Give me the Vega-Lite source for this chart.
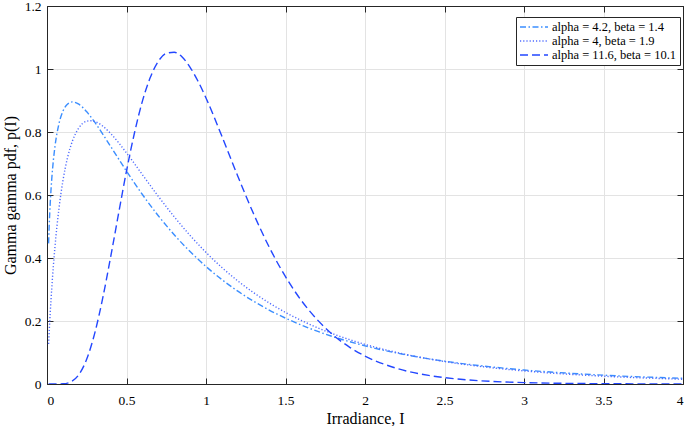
{
  "$schema": "https://vega.github.io/schema/vega-lite/v6.json",
  "width": 636,
  "height": 378,
  "autosize": {"type": "none"},
  "padding": {"left": 47, "top": 6, "right": 2, "bottom": 42},
  "background": "white",
  "config": {
    "font": "Liberation Serif",
    "view": {"stroke": "#262626", "strokeWidth": 1},
    "axis": {
      "domain": true,
      "domainColor": "#262626",
      "domainWidth": 1,
      "grid": true,
      "gridColor": "#e3e3e3",
      "gridWidth": 1,
      "tickColor": "#262626",
      "tickSize": -6,
      "labelFont": "Liberation Serif",
      "labelFontSize": 13.5,
      "labelColor": "#000000",
      "titleFont": "Liberation Serif",
      "titleFontSize": 16,
      "titleFontWeight": "normal",
      "titleColor": "#000000"
    }
  },
  "data": {
    "values": [
      {"series": "alpha = 4.2, beta = 1.4", "I": 0.01, "p": 0.4465},
      {"series": "alpha = 4.2, beta = 1.4", "I": 0.015, "p": 0.5170},
      {"series": "alpha = 4.2, beta = 1.4", "I": 0.02, "p": 0.5711},
      {"series": "alpha = 4.2, beta = 1.4", "I": 0.03, "p": 0.6516},
      {"series": "alpha = 4.2, beta = 1.4", "I": 0.04, "p": 0.7096},
      {"series": "alpha = 4.2, beta = 1.4", "I": 0.05, "p": 0.7536},
      {"series": "alpha = 4.2, beta = 1.4", "I": 0.075, "p": 0.8258},
      {"series": "alpha = 4.2, beta = 1.4", "I": 0.1, "p": 0.8657},
      {"series": "alpha = 4.2, beta = 1.4", "I": 0.13, "p": 0.8890},
      {"series": "alpha = 4.2, beta = 1.4", "I": 0.16, "p": 0.8955},
      {"series": "alpha = 4.2, beta = 1.4", "I": 0.2, "p": 0.8882},
      {"series": "alpha = 4.2, beta = 1.4", "I": 0.25, "p": 0.8641},
      {"series": "alpha = 4.2, beta = 1.4", "I": 0.3, "p": 0.8312},
      {"series": "alpha = 4.2, beta = 1.4", "I": 0.4, "p": 0.7544},
      {"series": "alpha = 4.2, beta = 1.4", "I": 0.5, "p": 0.6758},
      {"series": "alpha = 4.2, beta = 1.4", "I": 0.6, "p": 0.6016},
      {"series": "alpha = 4.2, beta = 1.4", "I": 0.7, "p": 0.5342},
      {"series": "alpha = 4.2, beta = 1.4", "I": 0.8, "p": 0.4738},
      {"series": "alpha = 4.2, beta = 1.4", "I": 0.9, "p": 0.4203},
      {"series": "alpha = 4.2, beta = 1.4", "I": 1.0, "p": 0.3730},
      {"series": "alpha = 4.2, beta = 1.4", "I": 1.1, "p": 0.3314},
      {"series": "alpha = 4.2, beta = 1.4", "I": 1.2, "p": 0.2947},
      {"series": "alpha = 4.2, beta = 1.4", "I": 1.4, "p": 0.2341},
      {"series": "alpha = 4.2, beta = 1.4", "I": 1.5, "p": 0.2091},
      {"series": "alpha = 4.2, beta = 1.4", "I": 1.6, "p": 0.1870},
      {"series": "alpha = 4.2, beta = 1.4", "I": 1.8, "p": 0.1501},
      {"series": "alpha = 4.2, beta = 1.4", "I": 2.0, "p": 0.1212},
      {"series": "alpha = 4.2, beta = 1.4", "I": 2.25, "p": 0.0934},
      {"series": "alpha = 4.2, beta = 1.4", "I": 2.5, "p": 0.0725},
      {"series": "alpha = 4.2, beta = 1.4", "I": 2.75, "p": 0.0566},
      {"series": "alpha = 4.2, beta = 1.4", "I": 3.0, "p": 0.0445},
      {"series": "alpha = 4.2, beta = 1.4", "I": 3.5, "p": 0.0280},
      {"series": "alpha = 4.2, beta = 1.4", "I": 4.0, "p": 0.0180},
      {"series": "alpha = 4, beta = 1.9", "I": 0.01, "p": 0.1271},
      {"series": "alpha = 4, beta = 1.9", "I": 0.015, "p": 0.1777},
      {"series": "alpha = 4, beta = 1.9", "I": 0.02, "p": 0.2236},
      {"series": "alpha = 4, beta = 1.9", "I": 0.03, "p": 0.3047},
      {"series": "alpha = 4, beta = 1.9", "I": 0.04, "p": 0.3745},
      {"series": "alpha = 4, beta = 1.9", "I": 0.05, "p": 0.4351},
      {"series": "alpha = 4, beta = 1.9", "I": 0.075, "p": 0.5563},
      {"series": "alpha = 4, beta = 1.9", "I": 0.1, "p": 0.6447},
      {"series": "alpha = 4, beta = 1.9", "I": 0.13, "p": 0.7204},
      {"series": "alpha = 4, beta = 1.9", "I": 0.16, "p": 0.7714},
      {"series": "alpha = 4, beta = 1.9", "I": 0.2, "p": 0.8128},
      {"series": "alpha = 4, beta = 1.9", "I": 0.25, "p": 0.8342},
      {"series": "alpha = 4, beta = 1.9", "I": 0.28, "p": 0.8359},
      {"series": "alpha = 4, beta = 1.9", "I": 0.3, "p": 0.8336},
      {"series": "alpha = 4, beta = 1.9", "I": 0.35, "p": 0.8190},
      {"series": "alpha = 4, beta = 1.9", "I": 0.4, "p": 0.7954},
      {"series": "alpha = 4, beta = 1.9", "I": 0.5, "p": 0.7336},
      {"series": "alpha = 4, beta = 1.9", "I": 0.6, "p": 0.6646},
      {"series": "alpha = 4, beta = 1.9", "I": 0.7, "p": 0.5958},
      {"series": "alpha = 4, beta = 1.9", "I": 0.8, "p": 0.5310},
      {"series": "alpha = 4, beta = 1.9", "I": 0.9, "p": 0.4715},
      {"series": "alpha = 4, beta = 1.9", "I": 1.0, "p": 0.4178},
      {"series": "alpha = 4, beta = 1.9", "I": 1.1, "p": 0.3698},
      {"series": "alpha = 4, beta = 1.9", "I": 1.2, "p": 0.3273},
      {"series": "alpha = 4, beta = 1.9", "I": 1.4, "p": 0.2566},
      {"series": "alpha = 4, beta = 1.9", "I": 1.5, "p": 0.2273},
      {"series": "alpha = 4, beta = 1.9", "I": 1.6, "p": 0.2016},
      {"series": "alpha = 4, beta = 1.9", "I": 1.8, "p": 0.1589},
      {"series": "alpha = 4, beta = 1.9", "I": 2.0, "p": 0.1258},
      {"series": "alpha = 4, beta = 1.9", "I": 2.25, "p": 0.0945},
      {"series": "alpha = 4, beta = 1.9", "I": 2.5, "p": 0.0714},
      {"series": "alpha = 4, beta = 1.9", "I": 2.75, "p": 0.0543},
      {"series": "alpha = 4, beta = 1.9", "I": 3.0, "p": 0.0416},
      {"series": "alpha = 4, beta = 1.9", "I": 3.5, "p": 0.0248},
      {"series": "alpha = 4, beta = 1.9", "I": 4.0, "p": 0.0151},
      {"series": "alpha = 11.6, beta = 10.1", "I": 0.01, "p": 0.0},
      {"series": "alpha = 11.6, beta = 10.1", "I": 0.05, "p": 0.0},
      {"series": "alpha = 11.6, beta = 10.1", "I": 0.1, "p": 0.0007},
      {"series": "alpha = 11.6, beta = 10.1", "I": 0.15, "p": 0.0069},
      {"series": "alpha = 11.6, beta = 10.1", "I": 0.2, "p": 0.0294},
      {"series": "alpha = 11.6, beta = 10.1", "I": 0.25, "p": 0.0791},
      {"series": "alpha = 11.6, beta = 10.1", "I": 0.3, "p": 0.1608},
      {"series": "alpha = 11.6, beta = 10.1", "I": 0.35, "p": 0.2716},
      {"series": "alpha = 11.6, beta = 10.1", "I": 0.4, "p": 0.4025},
      {"series": "alpha = 11.6, beta = 10.1", "I": 0.45, "p": 0.5406},
      {"series": "alpha = 11.6, beta = 10.1", "I": 0.5, "p": 0.6762},
      {"series": "alpha = 11.6, beta = 10.1", "I": 0.55, "p": 0.7968},
      {"series": "alpha = 11.6, beta = 10.1", "I": 0.6, "p": 0.8979},
      {"series": "alpha = 11.6, beta = 10.1", "I": 0.65, "p": 0.9735},
      {"series": "alpha = 11.6, beta = 10.1", "I": 0.7, "p": 1.0244},
      {"series": "alpha = 11.6, beta = 10.1", "I": 0.75, "p": 1.0496},
      {"series": "alpha = 11.6, beta = 10.1", "I": 0.8, "p": 1.0532},
      {"series": "alpha = 11.6, beta = 10.1", "I": 0.85, "p": 1.0380},
      {"series": "alpha = 11.6, beta = 10.1", "I": 0.9, "p": 1.0054},
      {"series": "alpha = 11.6, beta = 10.1", "I": 0.95, "p": 0.9611},
      {"series": "alpha = 11.6, beta = 10.1", "I": 1.0, "p": 0.9081},
      {"series": "alpha = 11.6, beta = 10.1", "I": 1.1, "p": 0.7862},
      {"series": "alpha = 11.6, beta = 10.1", "I": 1.2, "p": 0.6597},
      {"series": "alpha = 11.6, beta = 10.1", "I": 1.3, "p": 0.5394},
      {"series": "alpha = 11.6, beta = 10.1", "I": 1.4, "p": 0.4321},
      {"series": "alpha = 11.6, beta = 10.1", "I": 1.5, "p": 0.3406},
      {"series": "alpha = 11.6, beta = 10.1", "I": 1.6, "p": 0.2648},
      {"series": "alpha = 11.6, beta = 10.1", "I": 1.7, "p": 0.2040},
      {"series": "alpha = 11.6, beta = 10.1", "I": 1.8, "p": 0.1555},
      {"series": "alpha = 11.6, beta = 10.1", "I": 1.9, "p": 0.1178},
      {"series": "alpha = 11.6, beta = 10.1", "I": 2.0, "p": 0.0887},
      {"series": "alpha = 11.6, beta = 10.1", "I": 2.2, "p": 0.0496},
      {"series": "alpha = 11.6, beta = 10.1", "I": 2.4, "p": 0.0274},
      {"series": "alpha = 11.6, beta = 10.1", "I": 2.6, "p": 0.0150},
      {"series": "alpha = 11.6, beta = 10.1", "I": 2.8, "p": 0.0082},
      {"series": "alpha = 11.6, beta = 10.1", "I": 3.0, "p": 0.0045},
      {"series": "alpha = 11.6, beta = 10.1", "I": 3.5, "p": 0.0010},
      {"series": "alpha = 11.6, beta = 10.1", "I": 4.0, "p": 0.0002}
    ]
  },
  "layer": [
    {
      "mark": {"type": "line", "interpolate": "monotone", "strokeWidth": 1.4, "clip": true},
      "encoding": {
        "x": {
          "field": "I", "type": "quantitative",
          "scale": {"domain": [0, 4], "nice": false, "zero": false},
          "axis": {"orient": "bottom", "values": [0, 0.5, 1, 1.5, 2, 2.5, 3, 3.5, 4], "format": "~g", "labelPadding": 15, "title": "Irradiance, I", "titlePadding": 4}
        },
        "y": {
          "field": "p", "type": "quantitative",
          "scale": {"domain": [0, 1.2], "nice": false},
          "axis": {"orient": "left", "values": [0, 0.2, 0.4, 0.6, 0.8, 1, 1.2], "format": "~g", "labelPadding": 12, "title": "Gamma gamma pdf, p(I)", "titlePadding": 6}
        },
        "color": {
          "field": "series", "type": "nominal",
          "scale": {"domain": ["alpha = 4.2, beta = 1.4", "alpha = 4, beta = 1.9", "alpha = 11.6, beta = 10.1"], "range": ["#3b8eff", "#4f6bff", "#2347ff"]},
          "legend": {"orient": "none", "legendX": 469, "legendY": 11, "title": null, "labelFont": "Liberation Serif", "labelFontSize": 12.5, "labelColor": "#000000", "strokeColor": "#262626", "fillColor": "#ffffff", "padding": 3, "symbolType": "M-1,0H3.667", "symbolStrokeWidth": 1.5, "symbolSize": 144, "labelOffset": 19, "rowPadding": -2}
        },
        "strokeDash": {
          "field": "series", "type": "nominal",
          "scale": {"domain": ["alpha = 4.2, beta = 1.4", "alpha = 4, beta = 1.9", "alpha = 11.6, beta = 10.1"], "range": [[6, 2.5, 1.5, 2.5], [1.2, 2], [8, 4]]},
          "legend": {"orient": "none", "legendX": 469, "legendY": 11, "title": null, "labelFont": "Liberation Serif", "labelFontSize": 12.5, "labelColor": "#000000", "strokeColor": "#262626", "fillColor": "#ffffff", "padding": 3, "symbolType": "M-1,0H3.667", "symbolStrokeWidth": 1.5, "symbolSize": 144, "labelOffset": 19, "rowPadding": -2}
        }
      }
    },
    {
      "mark": {"type": "line", "opacity": 0},
      "encoding": {
        "x": {"field": "I", "type": "quantitative", "axis": {"orient": "top", "values": [0, 0.5, 1, 1.5, 2, 2.5, 3, 3.5, 4], "labels": false, "grid": false, "title": null}},
        "y": {"field": "p", "type": "quantitative", "axis": {"orient": "right", "values": [0, 0.2, 0.4, 0.6, 0.8, 1, 1.2], "labels": false, "grid": false, "title": null}},
        "detail": {"field": "series", "type": "nominal"}
      }
    }
  ]
}
